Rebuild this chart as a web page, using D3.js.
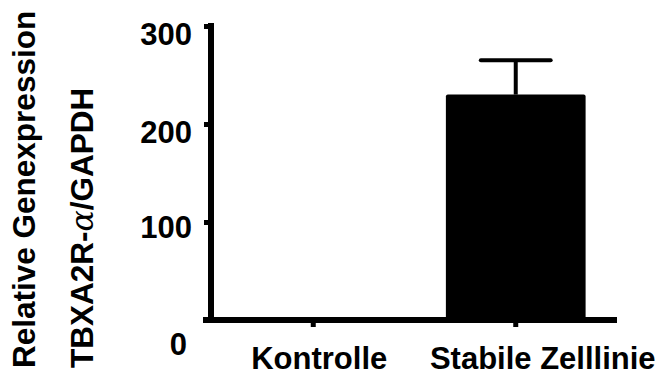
<!DOCTYPE html>
<html>
<head>
<meta charset="utf-8">
<script src="https://cdn.jsdelivr.net/npm/d3@7/dist/d3.min.js"></script>
<style>
  html, body { margin: 0; padding: 0; background: #fff; }
  svg { display: block; }
  text { font-family: "Liberation Sans", Arial, sans-serif; font-weight: bold; fill: #000; }
</style>
</head>
<body>
<svg id="chart" width="664" height="378"></svg>
<script>
// ---- data ----
const categories = ["Kontrolle", "Stabile Zelllinie"];
const means = [1, 230];
const errors = [0, 35];
const yTicks = [0, 100, 200, 300];
const yTitleLine1 = "Relative Genexpression";
const yTitleLine2 = ["TBXA2R-", "\u03B1", "/GAPDH"];

// ---- layout ----
const svg = d3.select("#chart");
const fontSize = 31;

const y = d3.scaleLinear().domain([0, 300]).range([320, 26]);
const x = d3.scaleBand().domain(categories).range([211, 618])
  .paddingInner(0.31).paddingOuter(0.16);

// bars
svg.append("g").selectAll("rect").data(categories).join("rect")
  .attr("x", d => x(d))
  .attr("width", x.bandwidth())
  .attr("y", (d, i) => y(means[i]))
  .attr("height", (d, i) => y(0) - y(means[i]))
  .attr("rx", 2)
  .attr("fill", "#000");

// error bars (upper only)
const eg = svg.append("g");
categories.forEach((c, i) => {
  if (!errors[i]) return;
  const cx = x(c) + x.bandwidth() / 2;
  eg.append("line")
    .attr("x1", cx).attr("x2", cx)
    .attr("y1", y(means[i])).attr("y2", y(means[i] + errors[i]))
    .attr("stroke", "#000").attr("stroke-width", 4);
  eg.append("line")
    .attr("x1", cx - x.bandwidth() / 4).attr("x2", cx + x.bandwidth() / 4)
    .attr("y1", y(means[i] + errors[i])).attr("y2", y(means[i] + errors[i]))
    .attr("stroke", "#000").attr("stroke-width", 4).attr("stroke-linecap", "round");
});

// y axis
const yAxis = svg.append("g").attr("transform", "translate(211,0)")
  .call(d3.axisLeft(y).tickValues(yTicks).tickSize(7).tickPadding(12).tickSizeOuter(0));
yAxis.select(".domain").remove();
yAxis.selectAll(".tick line").attr("stroke", "#000").attr("stroke-width", 5);
yAxis.selectAll(".tick text")
  .style("font-size", fontSize + "px")
  .attr("dy", d => d === 0 ? "1.1em" : (d === 100 ? "0.5em" : "0.6em"))
  .attr("dx", d => d === 0 ? -5 : 0);
svg.append("line")
  .attr("x1", 211).attr("x2", 211)
  .attr("y1", y(300) - 3).attr("y2", y(0) + 3)
  .attr("stroke", "#000").attr("stroke-width", 6);

// x axis
const xAxis = svg.append("g").attr("transform", "translate(0,320)")
  .call(d3.axisBottom(x).tickSize(7).tickPadding(18).tickSizeOuter(0));
xAxis.select(".domain").remove();
xAxis.selectAll(".tick line").attr("stroke", "#000").attr("stroke-width", 5);
xAxis.selectAll(".tick text")
  .style("font-size", fontSize + "px")
  .attr("dx", (d, i) => i === 0 ? 6 : 27)
  .attr("dy", "0.78em");
svg.append("line")
  .attr("x1", 203).attr("x2", 617)
  .attr("y1", y(0)).attr("y2", y(0))
  .attr("stroke", "#000").attr("stroke-width", 6);

// y title
svg.append("text")
  .attr("transform", "translate(35,368) rotate(-90)")
  .style("font-size", "31.5px")
  .text(yTitleLine1);
const t2 = svg.append("text")
  .attr("transform", "translate(93,368) rotate(-90)")
  .style("font-size", "31.5px");
t2.append("tspan").text(yTitleLine2[0]);
t2.append("tspan").text(yTitleLine2[1])
  .style("font-family", "'DejaVu Serif', serif")
  .style("font-style", "italic").style("font-weight", "normal");
t2.append("tspan").text(yTitleLine2[2]);
</script>
</body>
</html>
